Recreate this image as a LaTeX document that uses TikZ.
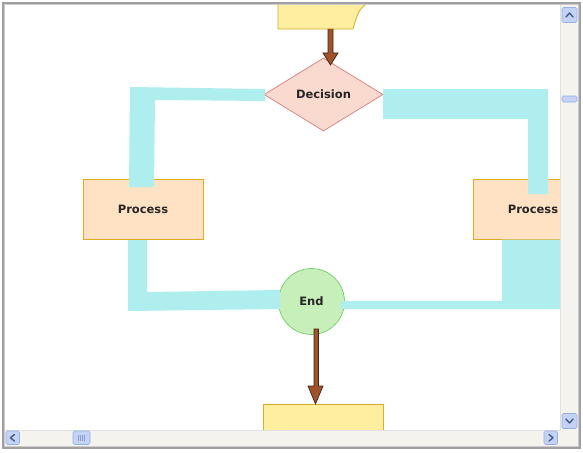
\documentclass[tikz,border=0pt]{standalone}
\usepackage{fontspec}
\setmainfont{DejaVu Sans}
\usetikzlibrary{shapes.geometric}
\definecolor{cyanband}{RGB}{175,238,238}
\definecolor{decfill}{RGB}{250,218,206}
\definecolor{decline}{RGB}{218,110,110}
\definecolor{procfill}{RGB}{255,226,196}
\definecolor{procline}{RGB}{230,170,30}
\definecolor{yelfill}{RGB}{255,238,160}
\definecolor{yelline}{RGB}{215,175,40}
\definecolor{endfill}{RGB}{198,239,186}
\definecolor{endline}{RGB}{100,200,90}
\definecolor{arrfill}{RGB}{160,82,45}
\definecolor{arrline}{RGB}{70,35,15}
\definecolor{track}{RGB}{244,243,238}
\definecolor{btnfill}{RGB}{196,211,245}
\definecolor{btnline}{RGB}{150,175,230}
\definecolor{chev}{RGB}{70,90,140}
\definecolor{frame}{RGB}{160,160,160}
\tikzset{
  lbl/.style={font=\bfseries\fontsize{11.5}{13}\selectfont, text=black!85},
  procbox/.style={lbl, draw=procline, fill=procfill, line width=0.8pt, minimum width=120pt, minimum height=60pt, inner sep=0pt},
  yelbox/.style={draw=yelline, fill=yelfill, line width=0.8pt, minimum width=120pt, minimum height=52pt, inner sep=0pt},
  decbox/.style={lbl, diamond, draw=decline, fill=decfill, line width=0.6pt, minimum width=119pt, minimum height=73pt, inner sep=0pt},
  endbox/.style={lbl, circle, draw=endline, fill=endfill, line width=0.6pt, minimum size=66pt, inner sep=0pt},
  band/.style={fill=cyanband},
  brownarr/.style={fill=arrfill, draw=arrline, line width=0.7pt, line join=miter},
  sbtn/.style={fill=btnfill, draw=btnline, line width=0.6pt, rounded corners=1.5pt},
  chevron/.style={draw=chev, line width=1.4pt, line cap=round, line join=round}
}
\begin{document}
\begin{tikzpicture}[x=1pt,y=-1pt]
\useasboundingbox (0,0) rectangle (583,452);
\fill[white] (0,0) rectangle (583,452);
\begin{scope}
\clip (5,5) rectangle (560,430);
% top note shape
\filldraw[draw=yelline, fill=yelfill, line width=0.8pt] (278,-10) -- (278,29) -- (353,29) .. controls (357,15) and (359,8) .. (368,3) -- (368,-10) -- cycle;
% nodes
\node[decbox] (dec) at (323.5,94.5) {Decision};
\node[procbox] (pl) at (143,209) {Process};
\node[procbox] (pr) at (533,209) {Process};
\node[endbox] (end) at (311.5,301.5) {End};
\node[yelbox] (bot) at (323,430) {};
% cyan connectors
\fill[band] (130,87) -- (265,89) -- (265,101) -- (155,100) -- (154,187) -- (129,187) -- cycle;
\fill[band] (383,89) -- (548,89) -- (548,194) -- (528,194) -- (528,119) -- (383,119) -- cycle;
\fill[band] (128,240) -- (147,240) -- (147,292) -- (280,290) -- (280,309) -- (128,311) -- cycle;
\fill[band] (341,301) -- (502,301) -- (502,239.5) -- (562,239.5) -- (562,309) -- (341,309) -- cycle;
% arrows
\filldraw[brownarr] (328,29) -- (328,53) -- (323,53) -- (330.5,65) -- (338,53) -- (333,53) -- (333,29);
\filldraw[brownarr] (314,329) -- (314,386) -- (308,386) -- (315.5,404) -- (323,386) -- (318.5,386) -- (318.5,329) -- cycle;
\end{scope}
% window frame
\draw[frame, line width=2pt] (3,3) rectangle (580,448);
\draw[black!20, line width=0.6pt] (4.6,4.6) rectangle (578.6,446.6);
% vertical scrollbar
\fill[track] (560,5) rectangle (578,446);
\draw[black!12, line width=0.6pt] (560,5) -- (560,430);
\fill[track] (5,430) rectangle (560,446);
\draw[black!12, line width=0.6pt] (5,430) -- (560,430);
\draw[sbtn] (562,7.5) rectangle (577,22.5);
\draw[chevron] (566,17) -- (569.5,13) -- (573,17);
\draw[sbtn] (562,96) rectangle (577,102);
\draw[sbtn] (562,413.5) rectangle (577,428.5);
\draw[chevron] (566,419) -- (569.5,423) -- (573,419);
% horizontal scrollbar
\draw[sbtn] (6,431) rectangle (19.5,444.5);
\draw[chevron] (14.5,434.5) -- (10.5,437.8) -- (14.5,441);
\draw[sbtn] (73,431) rectangle (90,444.5);
\foreach \gx in {78.5,80.5,82.5,84.5} \draw[btnline!80!chev, line width=0.5pt] (\gx,435) -- (\gx,441);
\draw[sbtn] (544,431) rectangle (557.5,444.5);
\draw[chevron] (549,434.5) -- (553,437.8) -- (549,441);
\end{tikzpicture}
\end{document}
